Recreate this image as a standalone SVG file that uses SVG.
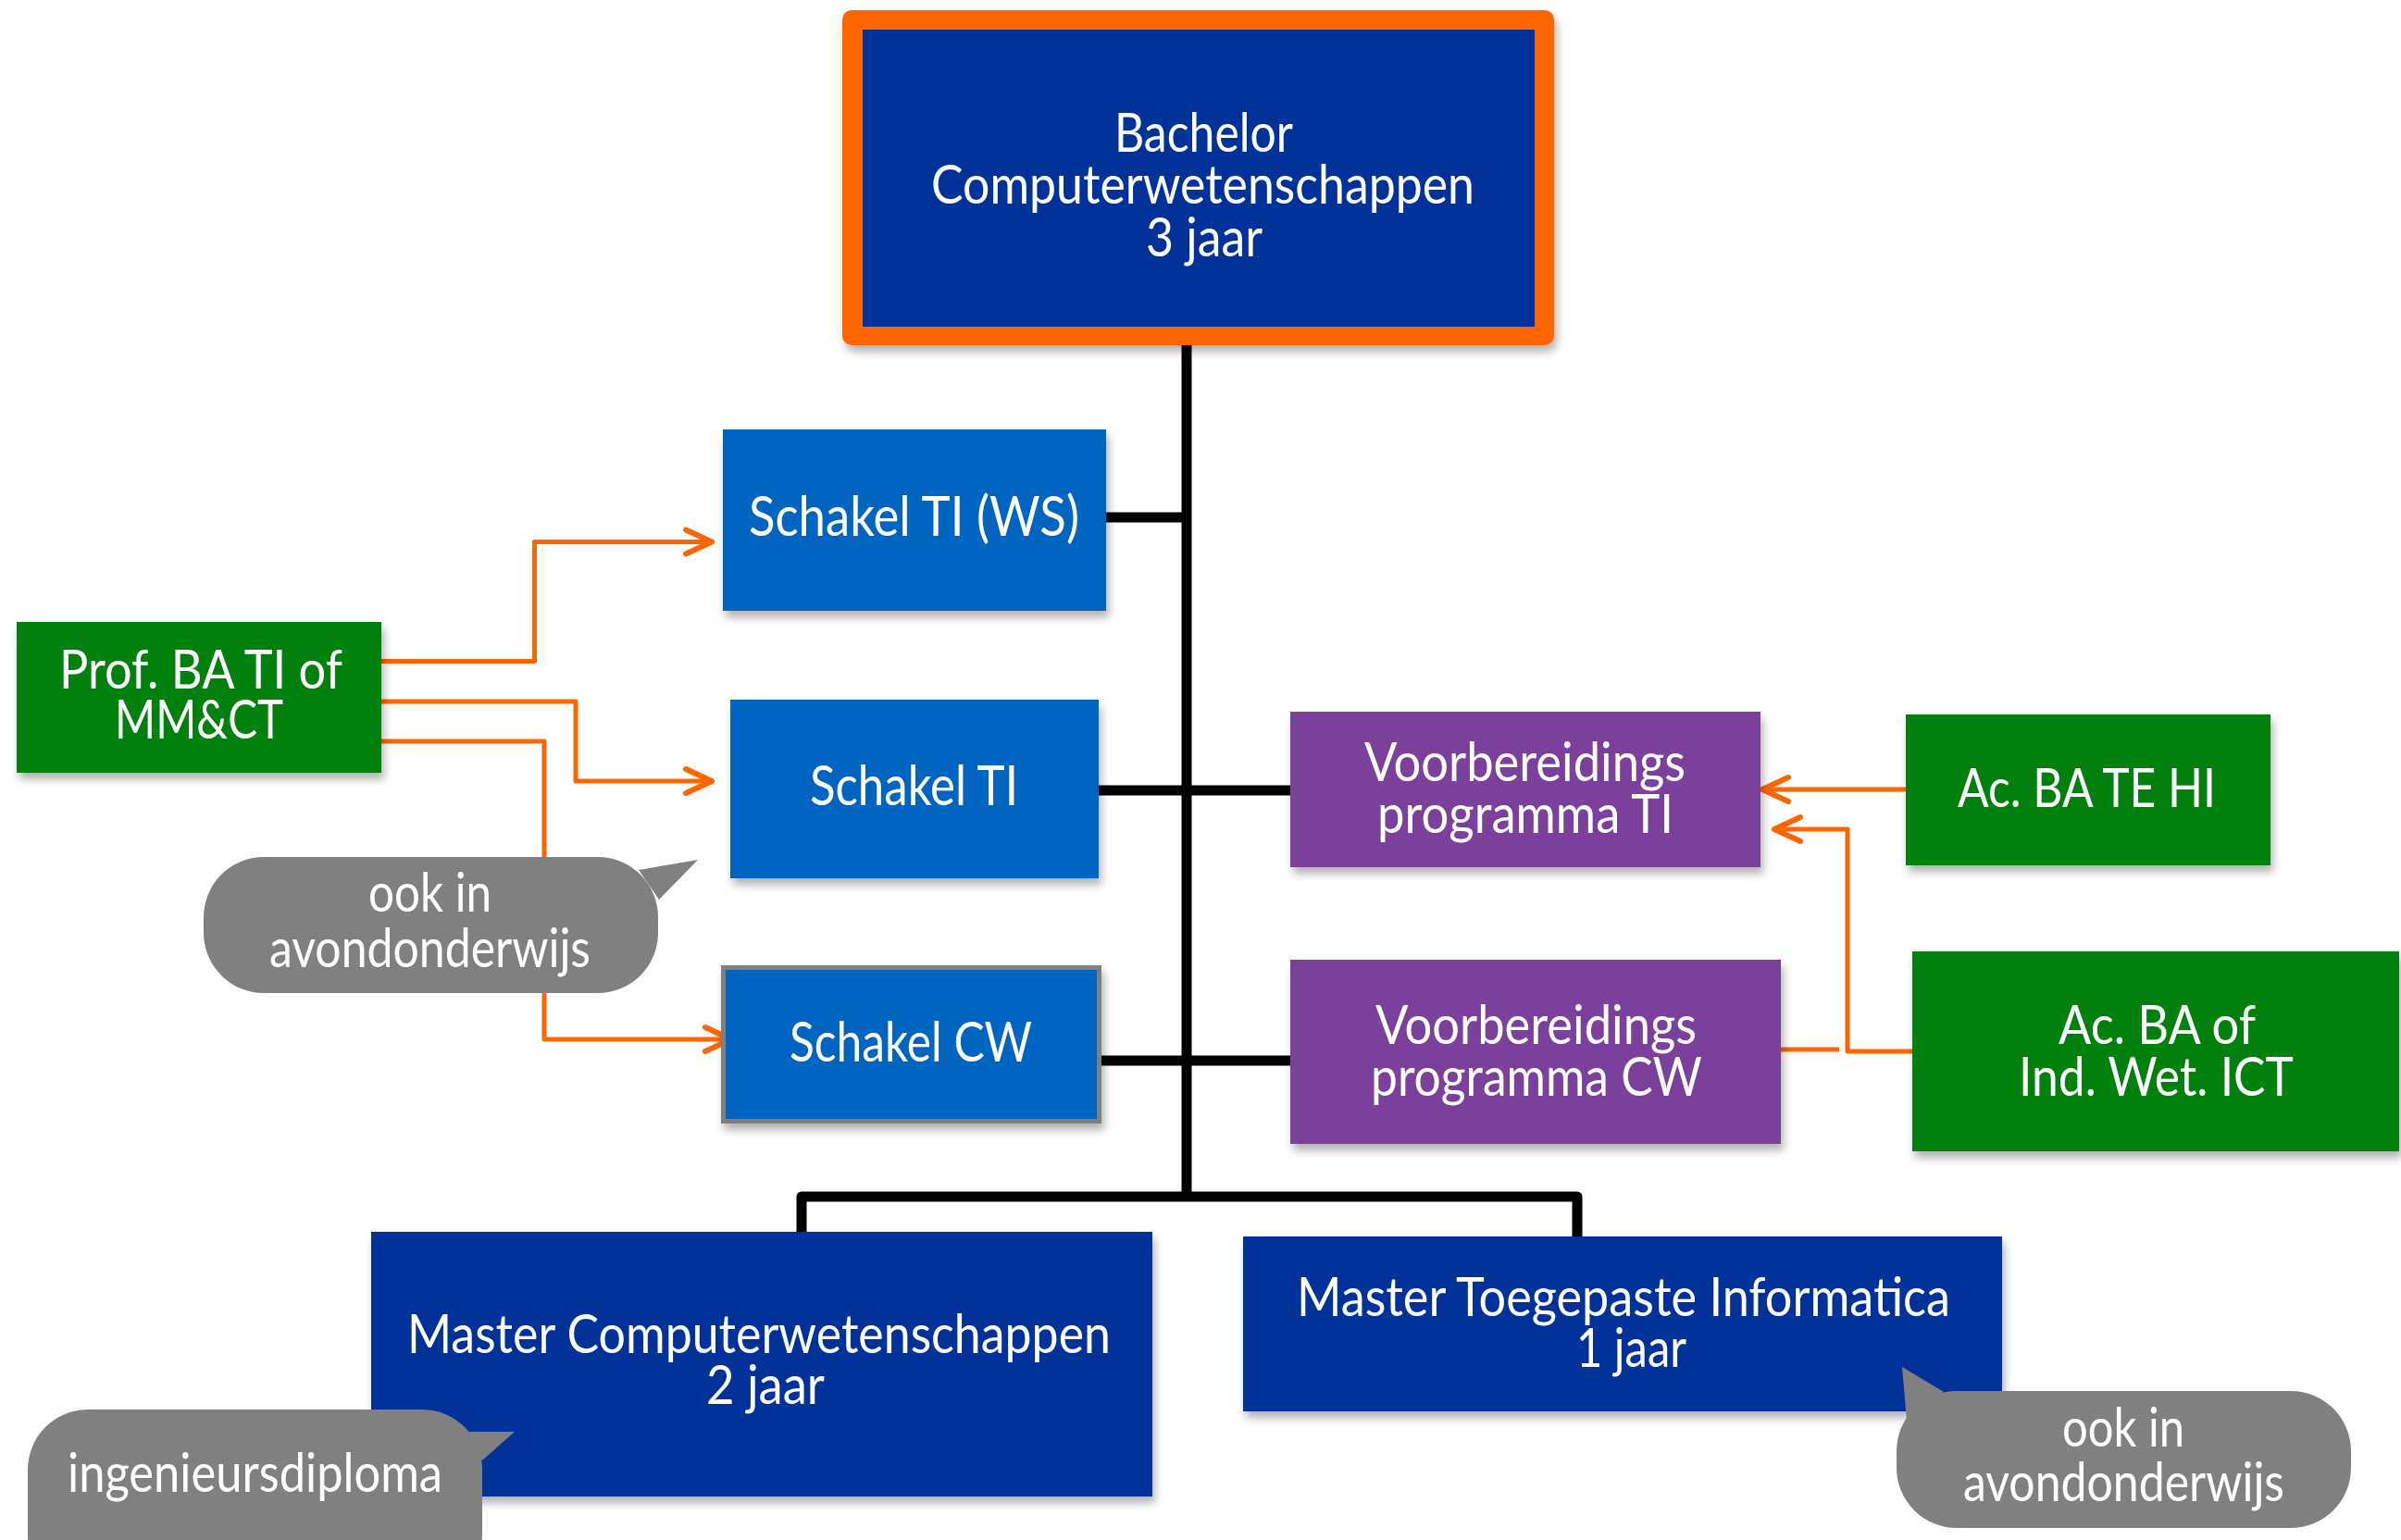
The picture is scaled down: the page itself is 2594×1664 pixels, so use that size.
<svg xmlns="http://www.w3.org/2000/svg" width="2594" height="1664" viewBox="0 0 2594 1664">
  <defs>
    <filter id="shadow" x="-10%" y="-10%" width="130%" height="140%">
      <feDropShadow dx="3" dy="7" stdDeviation="5" flood-color="#000" flood-opacity="0.3"/>
    </filter>
    <marker id="chevron" markerUnits="userSpaceOnUse" markerWidth="40" markerHeight="40" refX="0" refY="0" orient="auto" overflow="visible">
      <path d="M -28 -13 L 0 0 L -28 13" fill="none" stroke="#FF6600" stroke-width="6" stroke-linecap="round" stroke-linejoin="round"/>
    </marker>
    <style>
      text { font-family: Lato, "Open Sans", "Liberation Sans", sans-serif; font-size: 58px; fill: #FFFFFF; }
      .wide { font-size: 60px; }
      .navy { fill: #003399; }
      .blue { fill: #0565C0; }
      .purple { fill: #7A3F9B; }
      .green { fill: #038008; }
      .bubble { fill: #808080; }
      .trunk { fill: none; stroke: #000000; stroke-width: 11; stroke-linejoin: round; }
      .feed { fill: none; stroke: #FF6600; stroke-width: 5; stroke-linejoin: round; }
    </style>
  </defs>

  <rect width="2594" height="1664" fill="#FFFFFF"/>

  <!-- black tree lines -->
  <g id="connectors">
    <path class="trunk" d="M 1282 370 V 1293"/>
    <path class="trunk" d="M 1195 559 H 1282"/>
    <path class="trunk" d="M 1187 854 H 1394"/>
    <path class="trunk" d="M 1190 1146 H 1394"/>
    <path class="trunk" d="M 866 1331 V 1293 H 1704 V 1336"/>
    <!-- orange entry routes -->
    <path class="feed" d="M 412 714.5 H 577.5 V 585.5 H 769" marker-end="url(#chevron)"/>
    <path class="feed" d="M 412 758 H 622 V 844 H 769" marker-end="url(#chevron)"/>
    <path class="feed" d="M 412 801 H 588 V 1123 H 790" marker-end="url(#chevron)"/>
    <path class="feed" d="M 2059 853 H 1904" marker-end="url(#chevron)"/>
    <path class="feed" d="M 2066 1136 H 1996 V 896 H 1917" marker-end="url(#chevron)"/>
    <path class="feed" d="M 1924 1134 H 1987"/>
  </g>

  <g id="bachelor" filter="url(#shadow)">
    <rect x="910" y="11" width="769" height="362" rx="10" fill="#FF6600"/>
    <rect class="navy" x="932" y="32" width="726" height="321"/>
    <text x="1204" y="164" textLength="193" lengthAdjust="spacingAndGlyphs">Bachelor</text>
    <text x="1006" y="220" textLength="587" lengthAdjust="spacingAndGlyphs">Computerwetenschappen</text>
    <text x="1238" y="277" textLength="126" lengthAdjust="spacingAndGlyphs">3 jaar</text>
  </g>

  <g id="schakel-ti-ws" filter="url(#shadow)">
    <rect class="blue" x="781" y="464" width="414" height="196"/>
    <text class="wide" x="809" y="579" textLength="357" lengthAdjust="spacingAndGlyphs">Schakel TI (WS)</text>
  </g>

  <g id="schakel-ti" filter="url(#shadow)">
    <rect class="blue" x="789" y="756" width="398" height="193"/>
    <text class="wide" x="875" y="870" textLength="225" lengthAdjust="spacingAndGlyphs">Schakel TI</text>
  </g>

  <g id="schakel-cw" filter="url(#shadow)">
    <rect class="blue" x="781.5" y="1045.5" width="406" height="166" stroke="#7F7F7F" stroke-width="5"/>
    <text class="wide" x="853" y="1147" textLength="262" lengthAdjust="spacingAndGlyphs">Schakel CW</text>
  </g>

  <g id="prof-ba" filter="url(#shadow)">
    <rect class="green" x="18" y="672" width="394" height="163"/>
    <text x="64" y="744" textLength="306" lengthAdjust="spacingAndGlyphs">Prof. BA TI of</text>
    <text x="124" y="798" textLength="182" lengthAdjust="spacingAndGlyphs">MM&amp;CT</text>
  </g>

  <g id="note-schakel">
    <rect class="bubble" x="220" y="926" width="491" height="147" rx="65"/>
    <polygon class="bubble" points="690,940 754,929 712,972"/>
    <text x="398" y="985" textLength="133" lengthAdjust="spacingAndGlyphs">ook in</text>
    <text x="291" y="1045" textLength="347" lengthAdjust="spacingAndGlyphs">avondonderwijs</text>
  </g>

  <g id="voorbereiding-ti" filter="url(#shadow)">
    <rect class="purple" x="1394" y="769" width="508" height="168"/>
    <text x="1474" y="844" textLength="347" lengthAdjust="spacingAndGlyphs">Voorbereidings</text>
    <text x="1488" y="900" textLength="320" lengthAdjust="spacingAndGlyphs">programma TI</text>
  </g>

  <g id="voorbereiding-cw" filter="url(#shadow)">
    <rect class="purple" x="1394" y="1037" width="530" height="199"/>
    <text x="1486" y="1128" textLength="347" lengthAdjust="spacingAndGlyphs">Voorbereidings</text>
    <text x="1481" y="1184" textLength="358" lengthAdjust="spacingAndGlyphs">programma CW</text>
  </g>

  <g id="ac-ba-te-hi" filter="url(#shadow)">
    <rect class="green" x="2059" y="772" width="394" height="163"/>
    <text x="2115" y="872" textLength="279" lengthAdjust="spacingAndGlyphs">Ac. BA TE HI</text>
  </g>

  <g id="ac-ba-ict" filter="url(#shadow)">
    <rect class="green" x="2066" y="1028" width="526" height="216"/>
    <text x="2224" y="1128" textLength="213" lengthAdjust="spacingAndGlyphs">Ac. BA of</text>
    <text x="2181" y="1184" textLength="297" lengthAdjust="spacingAndGlyphs">Ind. Wet. ICT</text>
  </g>

  <g id="master-cw" filter="url(#shadow)">
    <rect class="navy" x="401" y="1331" width="844" height="286"/>
    <text x="440" y="1462" textLength="760" lengthAdjust="spacingAndGlyphs">Master Computerwetenschappen</text>
    <text x="763" y="1517" textLength="128" lengthAdjust="spacingAndGlyphs">2 jaar</text>
  </g>

  <g id="master-ti" filter="url(#shadow)">
    <rect class="navy" x="1343" y="1336" width="820" height="189"/>
    <text x="1401" y="1422" textLength="706" lengthAdjust="spacingAndGlyphs">Master Toegepaste Informatica</text>
    <text x="1703" y="1477" textLength="119" lengthAdjust="spacingAndGlyphs">1 jaar</text>
  </g>

  <g id="note-diploma">
    <rect class="bubble" x="30" y="1523" width="491" height="200" rx="65"/>
    <polygon class="bubble" points="480,1547 556,1547 521,1578"/>
    <text x="73" y="1612" textLength="405" lengthAdjust="spacingAndGlyphs">ingenieursdiploma</text>
  </g>

  <g id="note-master-ti">
    <rect class="bubble" x="2049" y="1503" width="491" height="148" rx="65"/>
    <polygon class="bubble" points="2100,1504 2055,1477 2060,1535"/>
    <text x="2228" y="1563" textLength="132" lengthAdjust="spacingAndGlyphs">ook in</text>
    <text x="2121" y="1622" textLength="347" lengthAdjust="spacingAndGlyphs">avondonderwijs</text>
  </g>
</svg>
